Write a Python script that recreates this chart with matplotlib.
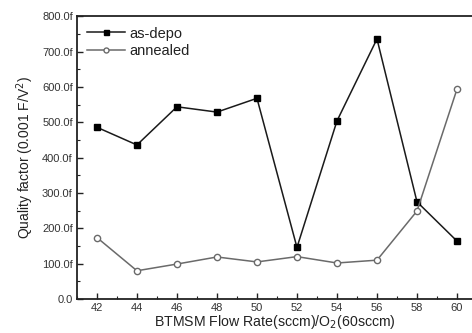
import matplotlib
matplotlib.use("Agg")
import matplotlib.pyplot as plt
from matplotlib.ticker import MultipleLocator, FuncFormatter

plt.rcParams['font.family'] = ['Liberation Sans', 'DejaVu Sans']

flow_rate = [42, 44, 46, 48, 50, 52, 54, 56, 58, 60]
as_depo = [486, 436, 544, 529, 568, 146, 504, 736, 275, 164]
annealed = [174, 80, 99, 119, 105, 120, 102, 110, 249, 594]

fig = plt.figure(figsize=(4.72, 3.33), dpi=100)
ax = fig.add_axes([0.163, 0.102, 0.837, 0.849])

ax.plot(flow_rate, as_depo, color='#1a1a1a', lw=1.1, marker='s', ms=4.5,
        mfc='#000000', mec='#000000', label='as-depo')
ax.plot(flow_rate, annealed, color='#6a6a6a', lw=1.1, marker='o', ms=4.5,
        mfc='white', mec='#6a6a6a', mew=1.0, label='annealed')

ax.set_xlim(41, 60.75)
ax.set_ylim(0, 800)
ax.xaxis.set_major_locator(MultipleLocator(2))
ax.xaxis.set_minor_locator(MultipleLocator(1))
ax.yaxis.set_major_locator(MultipleLocator(100))
ax.yaxis.set_minor_locator(MultipleLocator(50))
ax.yaxis.set_major_formatter(FuncFormatter(lambda v, p: '0.0' if v == 0 else f'{v:.1f}f'))

ax.tick_params(which='both', direction='in', top=False, right=False, colors='#222222')
ax.tick_params(which='major', length=4, width=1.0, labelsize=8, pad=3)
ax.tick_params(which='minor', length=2, width=0.8)
for lbl in ax.get_xticklabels() + ax.get_yticklabels():
    lbl.set_color('#333333')

for s in ax.spines.values():
    s.set_linewidth(1.3)
    s.set_color('#222222')
ax.spines['right'].set_visible(False)

ax.set_xlabel('BTMSM Flow Rate(sccm)/O$_2$(60sccm)', fontsize=10.2,
              color='#222222', labelpad=0)
ax.set_ylabel('Quality factor (0.001 F/V$^2$)', fontsize=10,
              color='#222222', labelpad=4)

leg = ax.legend(loc='upper left', frameon=False, fontsize=10.5, handlelength=2.6,
                handletextpad=0.3, borderaxespad=0.3, labelspacing=0.25,
                borderpad=0.4, markerscale=0.8)
for t in leg.get_texts():
    t.set_color('#222222')

fig.savefig('out.png', dpi=100)
